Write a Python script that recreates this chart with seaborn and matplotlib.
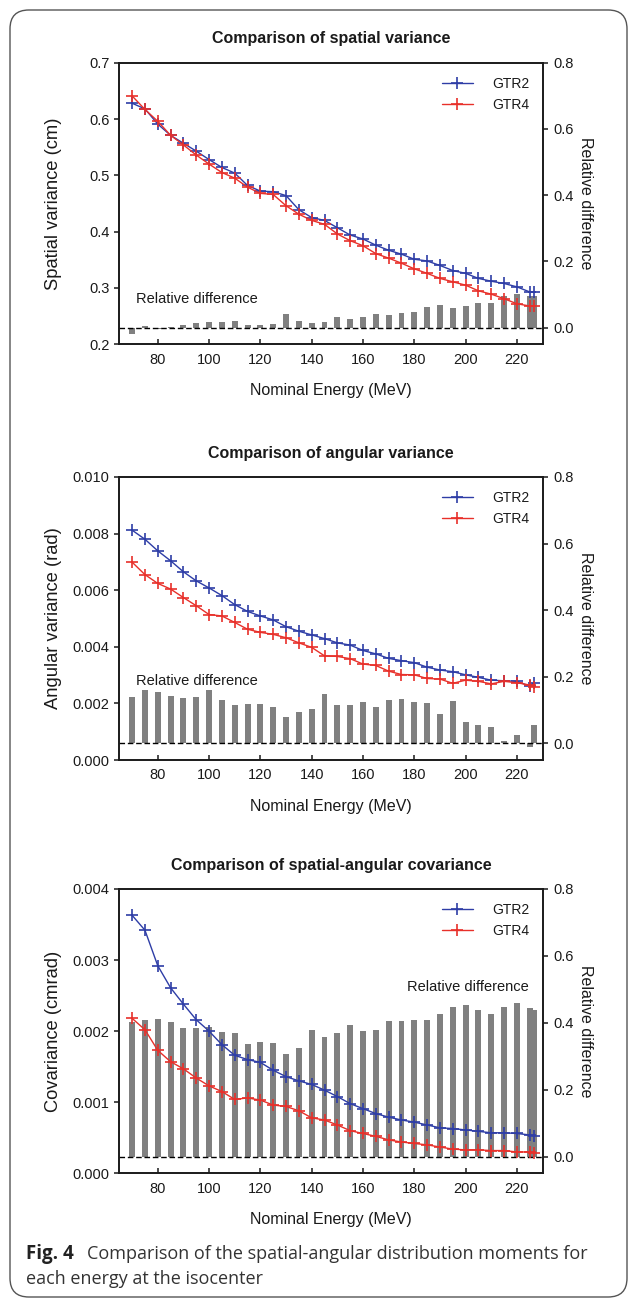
import matplotlib
matplotlib.use("Agg")
import matplotlib.pyplot as plt
from matplotlib.patches import FancyBboxPatch
import seaborn as sns

# ---- data ----
energy = [70, 75, 80, 85, 90, 95, 100, 105, 110, 115, 120, 125, 130, 135, 140, 145,
          150, 155, 160, 165, 170, 175, 180, 185, 190, 195, 200, 205, 210, 215, 220,
          225, 226.7]

spatial_gtr2 = [0.628, 0.618, 0.591, 0.571, 0.557, 0.543, 0.528, 0.514, 0.504, 0.482,
                0.472, 0.471, 0.464, 0.439, 0.425, 0.420, 0.407, 0.394, 0.387, 0.376,
                0.367, 0.360, 0.351, 0.348, 0.340, 0.331, 0.326, 0.317, 0.312, 0.308,
                0.302, 0.293, 0.293]
spatial_gtr4 = [0.641, 0.617, 0.596, 0.571, 0.554, 0.536, 0.520, 0.505, 0.495, 0.479,
                0.468, 0.466, 0.446, 0.431, 0.420, 0.413, 0.396, 0.384, 0.375, 0.361,
                0.353, 0.344, 0.334, 0.326, 0.317, 0.311, 0.305, 0.295, 0.289, 0.281,
                0.272, 0.268, 0.268]
spatial_rel = [-0.020, 0.005, -0.005, 0.002, 0.008, 0.013, 0.017, 0.017, 0.020, 0.008,
               0.008, 0.010, 0.040, 0.020, 0.013, 0.017, 0.032, 0.027, 0.033, 0.040,
               0.038, 0.043, 0.047, 0.063, 0.070, 0.059, 0.065, 0.074, 0.074, 0.095,
               0.103, 0.095, 0.095]

angular_gtr2 = [0.00812, 0.00780, 0.00739, 0.00704, 0.00665, 0.00633, 0.00608, 0.00581,
                0.00549, 0.00525, 0.00509, 0.00495, 0.00471, 0.00455, 0.00442, 0.00429,
                0.00414, 0.00406, 0.00387, 0.00375, 0.00359, 0.00351, 0.00344, 0.00328,
                0.00318, 0.00312, 0.00301, 0.00292, 0.00282, 0.00280, 0.00278, 0.00261,
                0.00273]
angular_gtr4 = [0.00699, 0.00655, 0.00624, 0.00604, 0.00574, 0.00545, 0.00514, 0.00509,
                0.00486, 0.00462, 0.00451, 0.00444, 0.00432, 0.00414, 0.00398, 0.00368,
                0.00366, 0.00358, 0.00339, 0.00334, 0.00314, 0.00302, 0.00301, 0.00288,
                0.00286, 0.00271, 0.00282, 0.00278, 0.00269, 0.00278, 0.00273, 0.00265,
                0.00258]
angular_rel = [0.138, 0.160, 0.155, 0.142, 0.136, 0.139, 0.160, 0.130, 0.115, 0.118,
               0.118, 0.109, 0.078, 0.093, 0.103, 0.148, 0.115, 0.115, 0.124, 0.109,
               0.130, 0.133, 0.124, 0.121, 0.087, 0.127, 0.063, 0.054, 0.048, 0.008,
               0.026, -0.010, 0.054]

cov_gtr2 = [0.00363, 0.00342, 0.00292, 0.00261, 0.00238, 0.00216, 0.00200, 0.00181,
            0.00166, 0.00160, 0.00156, 0.00145, 0.00136, 0.00130, 0.00125, 0.00117,
            0.00108, 0.00098, 0.00091, 0.00084, 0.00079, 0.00075, 0.00072, 0.00068,
            0.00064, 0.00063, 0.00061, 0.00059, 0.00057, 0.00057, 0.00056, 0.00054,
            0.00053]
cov_gtr4 = [0.00218, 0.00202, 0.00173, 0.00157, 0.00147, 0.00134, 0.00123, 0.00115,
            0.00104, 0.00106, 0.00103, 0.00096, 0.00094, 0.00088, 0.00078, 0.00075,
            0.00068, 0.00060, 0.00056, 0.00052, 0.00047, 0.00044, 0.00042, 0.00040,
            0.00037, 0.00034, 0.00033, 0.00033, 0.00032, 0.00032, 0.00030, 0.00030,
            0.00029]
cov_rel = [0.402, 0.408, 0.411, 0.402, 0.384, 0.384, 0.387, 0.372, 0.369, 0.336,
           0.342, 0.339, 0.306, 0.324, 0.378, 0.357, 0.369, 0.393, 0.375, 0.378,
           0.405, 0.405, 0.408, 0.408, 0.426, 0.447, 0.453, 0.438, 0.426, 0.447,
           0.459, 0.444, 0.438]

BLUE = "#2E3DA6"
RED = "#E8302A"
GREY = "#808080"
INK = "#1a1a1a"

sns.set_theme(style="ticks")
plt.rcParams.update({
    "font.family": ["Liberation Sans", "DejaVu Sans"],
    "axes.edgecolor": INK,
    "axes.linewidth": 1.2,
    "axes.labelcolor": INK,
    "xtick.color": INK,
    "ytick.color": INK,
    "text.color": INK,
    "xtick.labelsize": 10.5,
    "ytick.labelsize": 10.5,
    "xtick.major.size": 3.5,
    "ytick.major.size": 3.5,
    "xtick.major.width": 1.1,
    "ytick.major.width": 1.1,
})

W, H = 629, 1299
fig = plt.figure(figsize=(W / 100, H / 100), dpi=100)

# rounded frame around the whole figure
fig.patches.append(FancyBboxPatch((10 / W, 2 / H), 617 / W, 1287 / H,
                                  boxstyle="round,pad=0,rounding_size=0.03",
                                  transform=fig.transFigure, fill=False,
                                  edgecolor="#555555", linewidth=1.0,
                                  mutation_aspect=W / H))


def panel(top_px, bottom_px, gtr2, gtr4, rel, title, ylabel, ylim, yticks, fmt,
          note_xy):
    left, right = 119.3, 543.3
    ax = fig.add_axes([left / W, 1 - bottom_px / H, (right - left) / W,
                       (bottom_px - top_px) / H])
    axr = ax.twinx()
    ax.set_zorder(axr.get_zorder() + 1)
    ax.patch.set_visible(False)

    # relative difference bars on the right axis
    axr.bar(energy, rel, width=2.3, color=GREY, linewidth=0, zorder=1)
    axr.axhline(0, color="black", lw=1.0, ls=(0, (4, 2)), zorder=2)
    axr.set_ylim(-0.05, 0.8)
    axr.set_yticks([0.0, 0.2, 0.4, 0.6, 0.8])
    axr.set_yticklabels(["0.0", "0.2", "0.4", "0.6", "0.8"])
    axr.set_ylabel("Relative difference", rotation=270, labelpad=14, fontsize=11.5)
    axr.tick_params(direction="out", length=3.5)
    axr.text(note_xy[0], note_xy[1], "Relative difference", fontsize=10.5,
             va="center", ha="left")

    for vals, col, lab in [(gtr2, BLUE, "GTR2"), (gtr4, RED, "GTR4")]:
        sns.lineplot(x=energy, y=vals, ax=ax, color=col, marker="+", markersize=8,
                     markeredgewidth=1.2, markeredgecolor=col, markerfacecolor=col,
                     linewidth=1.0, label=lab)

    ax.set_xlim(65, 230.3)
    ax.set_xticks([80, 100, 120, 140, 160, 180, 200, 220])
    ax.set_ylim(*ylim)
    ax.set_yticks(yticks)
    ax.set_yticklabels([fmt.format(v) for v in yticks])
    ax.tick_params(axis="x", direction="in", length=3.5, pad=6)
    ax.tick_params(axis="y", direction="out", length=3.5)
    ax.set_xlabel("Nominal Energy (MeV)", fontsize=11.5, labelpad=12)
    ax.set_ylabel(ylabel, fontsize=13.2)
    ax.yaxis.label.set_verticalalignment("center")
    ax.yaxis.set_label_coords((54 - left) / (right - left), 0.5)
    ax.set_title(title, fontsize=11.5, fontweight="bold", pad=14)
    ax.legend(loc="upper right", frameon=False, fontsize=10, handlelength=2.2,
              handletextpad=1.4, borderaxespad=0.6, labelspacing=0.5)
    for s in ax.spines.values():
        s.set_visible(True)
    return ax


panel(62.7, 344.3, spatial_gtr2, spatial_gtr4, spatial_rel,
      "Comparison of spatial variance", "Spatial variance (cm)",
      (0.2, 0.7), [0.2, 0.3, 0.4, 0.5, 0.6, 0.7], "{:.1f}", (71.5, 0.086))
panel(477, 760, angular_gtr2, angular_gtr4, angular_rel,
      "Comparison of angular variance", "Angular variance (rad)",
      (0.0, 0.010), [0.0, 0.002, 0.004, 0.006, 0.008, 0.010], "{:.3f}", (71.5, 0.186))
panel(889, 1173.3, cov_gtr2, cov_gtr4, cov_rel,
      "Comparison of spatial-angular covariance", "Covariance (cmrad)",
      (0.0, 0.004), [0.0, 0.001, 0.002, 0.003, 0.004], "{:.3f}", (177.2, 0.506))

# caption
fig.text(26 / W, 1 - 1254 / H, "Fig. 4", fontsize=13.5, fontweight="bold",
         family=["Open Sans", "DejaVu Sans"], color="#222222", va="center")
fig.text(87 / W, 1 - 1254 / H,
         "Comparison of the spatial-angular distribution moments for",
         fontsize=13, family=["Open Sans", "DejaVu Sans"], color="#333333",
         va="center")
fig.text(26 / W, 1 - 1279 / H, "each energy at the isocenter",
         fontsize=13, family=["Open Sans", "DejaVu Sans"], color="#333333",
         va="center")

fig.savefig("out.png", dpi=100)
